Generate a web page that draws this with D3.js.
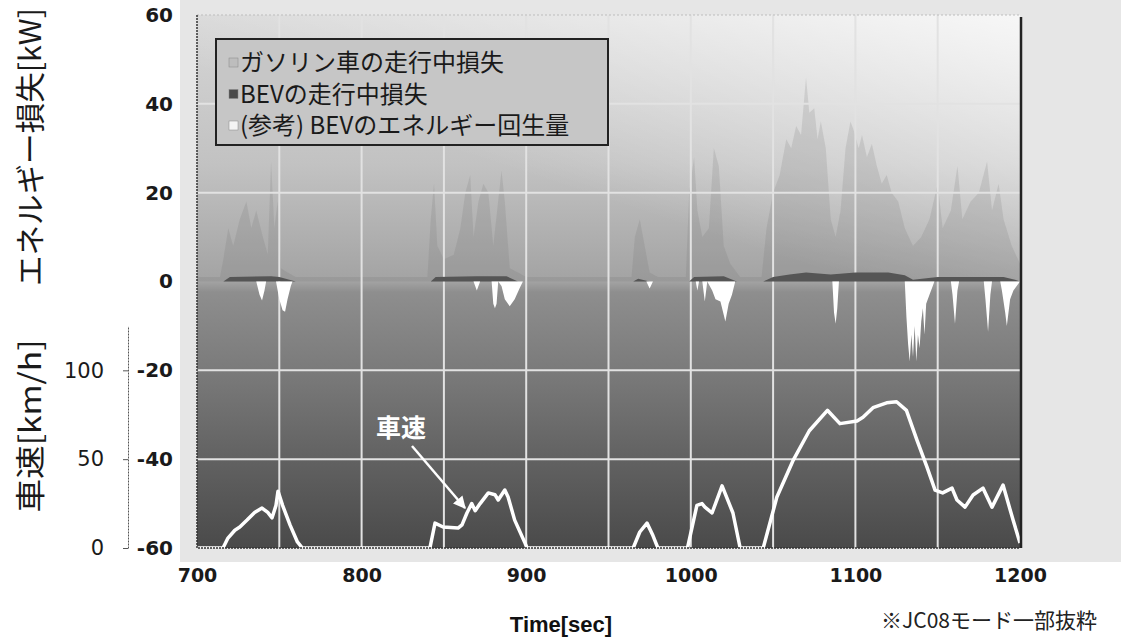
<!DOCTYPE html>
<html>
<head>
<meta charset="utf-8">
<script src="https://cdn.jsdelivr.net/npm/d3@7"></script>
<style>
  body { margin: 0; background: #fff; }
  svg { display: block; }
</style>
</head>
<body>
<svg id="chart" width="1121" height="639"></svg>
<script>
// values (JC08 excerpt, 700-1200 s)
const timeTicks = [700, 800, 900, 1000, 1100, 1200];
const energyTicks = [60, 40, 20, 0, -20, -40, -60];
const speedTicks = [0, 50, 100];
const legendLabels = ["ガソリン車の走行中損失", "BEVの走行中損失", "(参考) BEVのエネルギー回生量"];

// [time s, kW]
const gasLoss = [
  [700, 1], [714, 1], [716, 5], [719, 12], [722, 8], [726, 14], [730, 18], [733, 12], [736, 16],
  [740, 10], [743, 6], [745, 27], [747, 12], [749, 18], [751, 3], [755, 2], [760, 1], [840, 1],
  [842, 14], [844, 22], [846, 8], [850, 5], [856, 6], [860, 12], [863, 20], [866, 24], [868, 10],
  [871, 18], [874, 22], [877, 20], [880, 8], [885, 25], [887, 18], [890, 3], [895, 2], [900, 1],
  [964, 1], [966, 10], [969, 14], [972, 8], [975, 2], [980, 1], [997, 1], [999, 20], [1002, 28],
  [1004, 16], [1007, 10], [1011, 12], [1014, 30], [1017, 26], [1020, 8], [1024, 4], [1030, 1],
  [1043, 1], [1046, 12], [1050, 20], [1054, 24], [1058, 32], [1061, 30], [1064, 35], [1067, 33],
  [1070, 46], [1072, 38], [1075, 39], [1077, 32], [1079, 36], [1082, 30], [1085, 14], [1088, 10],
  [1091, 16], [1094, 30], [1097, 36], [1099, 34], [1102, 30], [1104, 33], [1107, 28], [1110, 31],
  [1113, 26], [1116, 22], [1119, 24], [1122, 20], [1126, 18], [1130, 12], [1135, 8], [1140, 10],
  [1145, 14], [1150, 22], [1153, 12], [1158, 16], [1162, 26], [1165, 14], [1170, 18], [1175, 20],
  [1180, 27], [1183, 16], [1187, 22], [1190, 14], [1195, 8], [1200, 4]
];

const bevLoss = [
  [700, 0], [716, 0], [720, 1], [745, 1.2], [750, 1], [760, 0], [842, 0], [845, 1], [870, 1.2],
  [888, 1.2], [895, 0], [965, 0], [968, 0.6], [975, 0], [999, 0], [1002, 1], [1020, 1.2], [1028, 0],
  [1044, 0], [1050, 1], [1060, 1.6], [1070, 2], [1085, 1.6], [1100, 2], [1120, 2], [1130, 1.4],
  [1135, 0.4], [1150, 1], [1190, 1], [1197, 0.4], [1200, 0]
];

const bevRegen = [
  [700, 0], [736, 0], [738, -3], [739.5, -4.3], [741, -2], [742, 0], [748, 0], [750, -4],
  [752, -6.5], [753.5, -6.8], [755, -4], [757, -1], [758, 0], [868, 0], [870, -2], [872, 0],
  [879, 0], [880, -5], [881, -6], [882, -5], [883, 0], [885, -1], [887, -4], [890, -5.6],
  [893, -4], [896, -1.5], [898, 0], [973, 0], [975, -1.6], [977, 0], [1003, 0], [1004, -2],
  [1005, 0], [1007, 0], [1008.5, -4.5], [1010, 0], [1013, -2], [1015, -4], [1018, -4.5],
  [1021, -9], [1023, -5], [1025, -3], [1027, 0], [1086, 0], [1087, -7], [1088, -9.5], [1089, -6],
  [1090, 0], [1130, 0], [1131, -8], [1132, -14], [1133, -18], [1134, -12], [1135, -17],
  [1136, -10], [1137, -18], [1138, -12], [1139, -15], [1140, -9], [1141, -6], [1142, -12],
  [1143, -5], [1145, -3], [1147, -1], [1148, 0], [1158, 0], [1159, -3], [1160.5, -9.5],
  [1162, -2], [1163, 0], [1178, 0], [1179, -4], [1180.6, -11.3], [1182, -3], [1183, 0],
  [1188, 0], [1189, -2], [1191, -7], [1192, -10], [1194, -4], [1196, -2], [1198, -1], [1200, 0]
];

// [time s, km/h]
const speed = [
  [700, 0], [715.8, 0], [718.8, 5.6], [723, 10], [726, 11.8], [730.4, 15.7], [735, 20],
  [739.5, 22.5], [743, 20], [745.6, 17], [748, 24], [749.2, 32], [752, 24], [756.5, 13],
  [761, 3.4], [764, 0], [841.5, 0], [844.6, 14], [849.5, 11.8], [858.6, 11.2], [861, 13],
  [864, 19.7], [866.9, 25], [869, 21], [872, 25], [877, 31], [881, 30], [883, 27], [887, 32.6],
  [889, 28.7], [893, 15.7], [899, 3.4], [900.5, 0], [965, 0], [969, 9], [973.4, 14], [977, 7],
  [980, 0], [998, 0], [1003.7, 24], [1006.8, 25], [1008.6, 23], [1012.9, 19.7], [1019, 35],
  [1025.6, 19.7], [1030, 0], [1044, 0], [1052.3, 28.7], [1062, 49], [1072, 66], [1083, 77.5],
  [1090.6, 70], [1101, 71.5], [1104.6, 73.6], [1110.7, 79], [1119, 81.7], [1125, 82.3],
  [1131, 77.5], [1137.4, 60.7], [1143.5, 45.5], [1148.4, 32.6], [1153, 31], [1158.7, 33.7],
  [1161.7, 27], [1166.6, 23], [1171.5, 29.8], [1177.5, 33.7], [1183, 23], [1189.7, 35.4],
  [1195.8, 15.7], [1200, 2.8]
];

const svg = d3.select("#chart");
const margin = { top: 15, right: 101, bottom: 91, left: 197 };
const width = 1121, height = 639;
const plotBottom = height - margin.bottom;

const x = d3.scaleLinear().domain([700, 1200]).range([margin.left, width - margin.right]);
const y = d3.scaleLinear().domain([-60, 60]).range([plotBottom, margin.top]);
const ySpeed = d3.scaleLinear().domain([0, 125]).range([plotBottom, plotBottom - (plotBottom - margin.top) * 125 / 300]);

const numFont = "'DejaVu Sans', Verdana, sans-serif";
const cjkFont = "'Noto Sans CJK JP', sans-serif";

const defs = svg.append("defs");

const bg = defs.append("linearGradient").attr("id", "bgGrad")
  .attr("x1", 0).attr("y1", 0).attr("x2", 0).attr("y2", 1);
[["0%", "#d6d6d6"], ["28%", "#c2c2c2"], ["50%", "#a3a3a3"], ["52%", "#8e8e8e"],
 ["67%", "#7a7a7a"], ["83%", "#626262"], ["100%", "#4a4a4a"]]
  .forEach(s => bg.append("stop").attr("offset", s[0]).attr("stop-color", s[1]));

// upper right of the scan is washed out
const wash = defs.append("linearGradient").attr("id", "washGrad")
  .attr("x1", 0).attr("y1", 1).attr("x2", 1).attr("y2", 0);
wash.append("stop").attr("offset", "40%").attr("stop-color", "#fff").attr("stop-opacity", 0);
wash.append("stop").attr("offset", "100%").attr("stop-color", "#fff").attr("stop-opacity", 0.8);

defs.append("clipPath").attr("id", "plotClip")
  .append("rect")
  .attr("x", margin.left).attr("y", margin.top)
  .attr("width", x.range()[1] - margin.left).attr("height", plotBottom - margin.top);

// page tint around the plot
svg.append("rect").attr("x", 180).attr("y", 0).attr("width", width - 180).attr("height", 562)
  .attr("fill", "#e6e6e6");

const plot = svg.append("g").attr("clip-path", "url(#plotClip)");

plot.append("rect")
  .attr("x", margin.left).attr("y", margin.top)
  .attr("width", x.range()[1] - margin.left).attr("height", plotBottom - margin.top)
  .attr("fill", "url(#bgGrad)");

plot.append("rect")
  .attr("x", margin.left).attr("y", margin.top)
  .attr("width", x.range()[1] - margin.left).attr("height", y(0) - margin.top)
  .attr("fill", "url(#washGrad)");

const area = d3.area()
  .x(d => x(d[0]))
  .y0(y(0))
  .y1(d => y(d[1]));

plot.append("path").datum(gasLoss)
  .attr("fill", "#6a6a6a").attr("fill-opacity", 0.17)
  .attr("d", area);

// grid
const grid = plot.append("g").attr("stroke", "#e2e2e2").attr("stroke-width", 2);
grid.selectAll("line.v")
  .data(d3.range(750, 1200, 50))
  .join("line").attr("class", "v")
  .attr("x1", d => x(d)).attr("x2", d => x(d))
  .attr("y1", margin.top).attr("y2", plotBottom);
grid.selectAll("line.h")
  .data(energyTicks.filter(d => d !== 60 && d !== -60 && d !== 0))
  .join("line").attr("class", "h")
  .attr("x1", margin.left).attr("x2", x.range()[1])
  .attr("y1", d => y(d)).attr("y2", d => y(d));

plot.append("path").datum(bevLoss)
  .attr("fill", "#555555")
  .attr("d", area);

plot.append("path").datum(bevRegen)
  .attr("fill", "#ffffff")
  .attr("d", area);

plot.append("path").datum(speed)
  .attr("fill", "none")
  .attr("stroke", "#ffffff")
  .attr("stroke-width", 3.5)
  .attr("stroke-linejoin", "round")
  .attr("d", d3.line().x(d => x(d[0])).y(d => ySpeed(d[1])));

// plot frame
svg.append("path")
  .attr("d", `M${margin.left},${margin.top}H${x.range()[1]}`)
  .attr("stroke", "#bdbdbd").attr("stroke-dasharray", "2,2").attr("fill", "none");
svg.append("path")
  .attr("d", `M${margin.left},${margin.top}V${plotBottom}H${x.range()[1]}`)
  .attr("stroke", "#333").attr("stroke-dasharray", "2,1").attr("stroke-width", 1.5).attr("fill", "none");
svg.append("path")
  .attr("d", `M${x.range()[1] + 1},${margin.top + 2}V${plotBottom}`)
  .attr("stroke", "#222").attr("stroke-width", 2.5).attr("fill", "none");

// axes
const plain = d => String(d);

const energyAxis = svg.append("g")
  .attr("transform", `translate(173,0)`)
  .call(d3.axisLeft(y).tickValues(energyTicks).tickFormat(plain).tickSize(0).tickPadding(0))
  .call(g => g.select(".domain").remove());
energyAxis.selectAll("text")
  .attr("fill", "#1a1a1a")
  .style("font-family", numFont)
  .style("font-weight", "bold")
  .style("font-size", "20px");

const speedAxis = svg.append("g")
  .attr("transform", `translate(128,0)`)
  .call(d3.axisLeft(ySpeed).tickValues(speedTicks).tickFormat(plain).tickSize(5).tickSizeOuter(0).tickPadding(19));
speedAxis.select(".domain").attr("stroke", "#555").attr("stroke-dasharray", "2,1");
speedAxis.selectAll(".tick line").attr("stroke", "#555");
speedAxis.selectAll("text")
  .attr("fill", "#1a1a1a")
  .style("font-family", numFont)
  .style("font-size", "21px");

const timeAxis = svg.append("g")
  .attr("transform", `translate(0,${plotBottom})`)
  .call(d3.axisBottom(x).tickValues(timeTicks).tickFormat(plain).tickSize(0).tickPadding(21))
  .call(g => g.select(".domain").remove());
timeAxis.selectAll("text")
  .attr("fill", "#1a1a1a")
  .style("font-family", numFont)
  .style("font-weight", "bold")
  .style("font-size", "19px");

// axis titles
svg.append("text")
  .attr("transform", "translate(41,147) rotate(-90)")
  .attr("text-anchor", "middle")
  .attr("textLength", 278).attr("lengthAdjust", "spacingAndGlyphs")
  .style("font-family", cjkFont)
  .style("font-size", "30px")
  .attr("fill", "#1a1a1a")
  .text("エネルギー損失[kW]");

svg.append("text")
  .attr("transform", "translate(41,426) rotate(-90)")
  .attr("text-anchor", "middle")
  .attr("textLength", 173).attr("lengthAdjust", "spacingAndGlyphs")
  .style("font-family", cjkFont)
  .style("font-size", "30px")
  .attr("fill", "#1a1a1a")
  .text("車速[km/h]");

svg.append("text")
  .attr("x", 561).attr("y", 632)
  .attr("text-anchor", "middle")
  .style("font-family", "'Liberation Sans', Arial, sans-serif")
  .style("font-weight", "bold")
  .style("font-size", "22px")
  .attr("fill", "#111")
  .text("Time[sec]");

svg.append("text")
  .attr("x", 989).attr("y", 628)
  .attr("text-anchor", "middle")
  .style("font-family", cjkFont)
  .style("font-size", "21px")
  .attr("fill", "#222")
  .text("※JC08モード一部抜粋");

// speed label with arrow
defs.append("marker").attr("id", "arrowHead")
  .attr("viewBox", "0 0 10 10").attr("refX", 9).attr("refY", 5)
  .attr("markerWidth", 5).attr("markerHeight", 5).attr("orient", "auto")
  .append("path").attr("d", "M0,0L10,5L0,10z").attr("fill", "#fff");

svg.append("text")
  .attr("x", 401).attr("y", 437)
  .attr("text-anchor", "middle")
  .style("font-family", cjkFont)
  .style("font-weight", "bold")
  .style("font-size", "25px")
  .attr("fill", "#fff")
  .text("車速");

svg.append("line")
  .attr("x1", 412).attr("y1", 446).attr("x2", 465).attr("y2", 508)
  .attr("stroke", "#fff").attr("stroke-width", 2.5)
  .attr("marker-end", "url(#arrowHead)");

// legend
const legend = svg.append("g").attr("transform", "translate(216,39)");
legend.append("rect")
  .attr("width", 392).attr("height", 106)
  .attr("fill", "#c6c6c6")
  .attr("stroke", "#222").attr("stroke-width", 2);
const swatch = ["#bdbdbd", "#4a4a4a", "#f4f4f4"];
const rows = legend.selectAll("g.row")
  .data(legendLabels)
  .join("g").attr("class", "row")
  .attr("transform", (d, i) => `translate(0,${23 + i * 31.5})`);
rows.append("rect")
  .attr("x", 13).attr("y", -4).attr("width", 9).attr("height", 9)
  .attr("fill", (d, i) => swatch[i])
  .attr("stroke", "#888").attr("stroke-width", 0.5);
rows.append("text")
  .attr("x", 24).attr("y", 9)
  .style("font-family", cjkFont)
  .style("font-size", "24px")
  .attr("fill", "#1a1a1a")
  .text(d => d);
</script>
</body>
</html>
